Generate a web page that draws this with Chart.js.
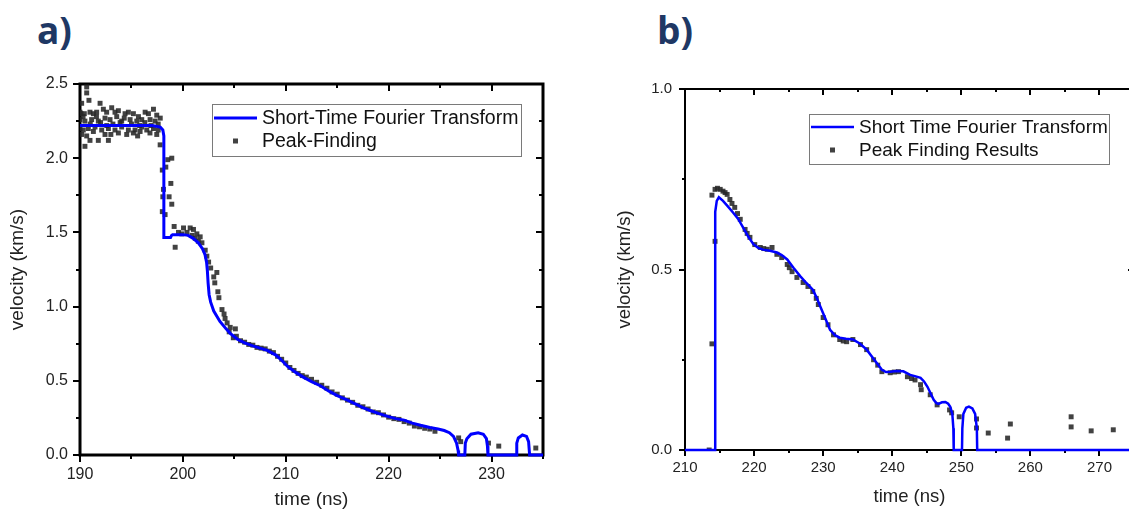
<!DOCTYPE html>
<html>
<head>
<meta charset="utf-8">
<script src="https://cdn.jsdelivr.net/npm/chart.js@4.4.1/dist/chart.umd.min.js"></script>
<style>
  html, body { margin: 0; padding: 0; overflow: hidden; background: #fff; width: 1129px; height: 517px; }
  .panel-label { position: absolute; font-family: "Open Sans", sans-serif; font-weight: 700; font-size: 37px; color: #1f3864; line-height: 1; }
  canvas { position: absolute; top: 0; }
</style>
</head>
<body>
<div class="panel-label" style="left:37px; top:11px;">a)</div>
<div class="panel-label" style="left:657px; top:11px;">b)</div>
<canvas id="chartA" width="560" height="517" style="left:0px"></canvas>
<canvas id="chartB" width="560" height="517" style="left:600px"></canvas>
<script>
// ---- panel a: data
const aXRange = [190, 235];
const aYRange = [0, 2.5];
const aLabels = ['Short-Time Fourier Transform', 'Peak-Finding'];

const aStftT = [190, 197.0, 197.8, 198.05, 198.15, 198.15, 198.8, 198.9, 199.0, 200.0, 200.5, 201.0, 201.5, 201.9, 202.15,
  202.3, 202.38, 202.45, 202.55, 202.7, 203.0, 203.6, 204.2, 204.6, 205.3, 206.0, 206.8, 207.5, 208.2, 209.0, 209.5, 210.2, 211.0, 211.7,
  212.5, 213.4, 214.2, 215.0, 216.0, 216.6, 217.5, 218.2, 219.0, 219.9, 220.7, 221.5, 222.3, 223.1, 224.0, 224.8, 225.4,
  225.9, 226.3, 226.6, 226.75, 226.8, 227.4, 227.45, 227.6, 228.0, 228.7, 229.2, 229.5, 229.6, 229.65, 232.4, 232.45,
  232.6, 233.0, 233.4, 233.6, 233.7, 235];
const aStftV = [2.22, 2.22, 2.21, 2.19, 2.15, 1.465, 1.465, 1.48, 1.485, 1.485, 1.48, 1.46, 1.43, 1.39, 1.35,
  1.30, 1.24, 1.16, 1.08, 1.03, 0.97, 0.90, 0.85, 0.82, 0.78, 0.755, 0.735, 0.72, 0.705, 0.675, 0.645, 0.595, 0.555, 0.525,
  0.495, 0.465, 0.43, 0.40, 0.37, 0.35, 0.32, 0.30, 0.28, 0.26, 0.245, 0.235, 0.215, 0.20, 0.185, 0.175, 0.165,
  0.15, 0.125, 0.08, 0.03, 0, 0, 0.08, 0.11, 0.14, 0.15, 0.14, 0.11, 0.06, 0, 0, 0.08,
  0.115, 0.135, 0.125, 0.09, 0, 0];

const aPeakT = [190.65, 190.65, 190.87, 190.16, 191.95, 190.0, 190.1, 190.42, 190.97, 191.3, 191.62, 192.27, 192.59, 193.08,
  193.4, 193.73, 194.38, 194.7, 195.19, 195.68, 196.33, 196.65, 197.14, 197.46, 190.0, 190.48, 191.13, 191.78, 192.43,
  192.92, 193.57, 194.05, 194.87, 195.52, 196.0, 196.81, 197.3, 190.0, 190.32, 190.81, 191.46, 192.11, 192.76, 193.4,
  194.05, 194.7, 195.35, 196.0, 196.49, 197.14, 197.6, 190.16, 190.65, 190.97, 191.78, 192.43, 192.76, 193.73, 194.54,
  195.19, 195.84, 190.48, 197.46, 197.79, 191.0, 191.6, 192.0, 192.6, 193.2, 193.9, 194.3, 195.0, 195.8, 196.3, 196.9,
  197.6, 197.8, 190.3, 191.3, 193.0, 195.6, 196.8,
  198.92, 198.53, 198.0, 198.34, 198.83, 198.11, 198.05, 198.66, 198.92, 198.0, 198.27, 199.15, 199.25, 199.57, 199.9,
  200.06, 200.4, 200.71, 200.9, 201.03, 201.2, 201.36, 201.5, 201.68, 201.85, 202.17, 202.33, 202.5, 202.7, 203.0, 203.3,
  203.1, 203.4, 203.5, 203.8, 204.0, 204.1, 204.3, 204.5, 204.6, 204.9, 205.1,
  205.2, 205.6, 206.0, 206.4, 206.8, 207.2, 207.6, 208.0, 208.4, 208.8, 209.2, 209.6, 210.0, 210.4, 210.8, 211.2, 211.6,
  212.0, 212.5, 213.0, 213.5, 214.0, 214.5, 215.0, 215.5, 216.0, 216.5, 217.0, 217.5, 218.0, 218.5, 219.0, 219.5, 220.0,
  220.5, 221.0, 221.5, 222.0, 222.5, 223.0, 223.5, 224.0, 224.5,
  226.8, 227.0, 229.7, 230.7, 234.3];
const aPeakV = [2.48, 2.44, 2.39, 2.37, 2.37, 2.31, 2.30, 2.30, 2.31, 2.30, 2.31, 2.33, 2.31, 2.34,
  2.31, 2.32, 2.30, 2.31, 2.30, 2.28, 2.31, 2.30, 2.33, 2.29, 2.26, 2.25, 2.26, 2.25, 2.27,
  2.26, 2.28, 2.25, 2.26, 2.25, 2.26, 2.26, 2.25, 2.20, 2.19, 2.20, 2.21, 2.19, 2.20, 2.19,
  2.21, 2.19, 2.19, 2.21, 2.19, 2.20, 2.19, 2.16, 2.15, 2.12, 2.12, 2.16, 2.12, 2.17, 2.16,
  2.17, 2.18, 2.08, 2.16, 2.09, 2.23, 2.28, 2.24, 2.22, 2.23, 2.24, 2.27, 2.23, 2.22, 2.24, 2.22,
  2.23, 2.27, 2.28, 2.18, 2.16, 2.15, 2.17,
  2.00, 1.99, 1.92, 1.94, 1.83, 1.79, 1.74, 1.74, 1.69, 1.64, 1.62, 1.54, 1.40, 1.50, 1.49,
  1.53, 1.50, 1.53, 1.48, 1.52, 1.46, 1.49, 1.44, 1.47, 1.43, 1.38, 1.34, 1.30, 1.26, 1.20, 1.23,
  1.16, 1.10, 1.06, 0.98, 0.95, 0.92, 0.89, 0.83, 0.86, 0.79, 0.85,
  0.80, 0.77, 0.76, 0.745, 0.74, 0.725, 0.72, 0.715, 0.70, 0.69, 0.665, 0.645, 0.62, 0.59, 0.57, 0.55, 0.535,
  0.525, 0.51, 0.49, 0.47, 0.45, 0.425, 0.41, 0.385, 0.37, 0.355, 0.335, 0.325, 0.31, 0.29, 0.285, 0.27, 0.255,
  0.245, 0.24, 0.225, 0.215, 0.195, 0.19, 0.18, 0.175, 0.16,
  0.115, 0.09, 0.08, 0.06, 0.047];

// ---- panel b: data
const bXRange = [210, 275];
const bYRange = [0, 1.0];
const bLabels = ['Short Time Fourier Transform', 'Peak Finding Results'];

const bStftT = [210, 214.35, 214.35, 214.4, 214.6, 214.9, 215.5, 216.2, 216.95, 217.7, 218.4, 219.2, 219.9, 220.6, 221.3,
  222.3, 223.3, 224.0, 224.8, 225.7, 226.7, 227.6, 228.5, 229.1, 229.6, 230.3, 231.0, 231.7, 232.4, 233.3, 234.3, 235.3,
  236.3, 237.4, 238.5, 239.1, 239.7, 240.6, 241.6, 242.6, 243.4, 244.1, 244.6, 245.1, 245.6, 246.0, 246.4, 246.7, 247.2,
  247.7, 248.1, 248.4, 248.7, 248.85, 248.9, 250.1, 250.15, 250.3, 250.7, 251.1, 251.6, 252.0, 252.25, 252.3, 275];
const bStftV = [0, 0, 0.50, 0.66, 0.69, 0.70, 0.69, 0.675, 0.658, 0.64, 0.617, 0.59, 0.57, 0.56, 0.555,
  0.552, 0.547, 0.54, 0.528, 0.505, 0.481, 0.462, 0.444, 0.42, 0.397, 0.365, 0.333, 0.318, 0.311, 0.308, 0.306, 0.295,
  0.278, 0.25, 0.222, 0.216, 0.217, 0.219, 0.218, 0.208, 0.204, 0.20, 0.19, 0.175, 0.155, 0.139, 0.13, 0.128, 0.132,
  0.133, 0.128, 0.12, 0.10, 0.06, 0, 0, 0.06, 0.10, 0.117, 0.12, 0.115, 0.10, 0.06, 0, 0];

const bPeakT = [213.5, 213.9, 214.35, 213.9, 214.35, 214.7, 215.1, 215.5, 215.8, 216.1, 216.5, 216.8, 217.2, 217.6, 218.0,
  218.7, 219.0, 219.4, 220.1, 220.9, 221.4, 221.9, 222.6, 223.3, 224.0, 224.8, 225.1, 225.5, 226.2, 227.1, 227.8, 228.5,
  229.0, 229.3, 230.0, 230.7, 231.5, 232.4, 232.9, 233.4, 234.3, 235.4, 236.3, 237.3, 237.9, 238.5, 239.7, 240.3, 240.9,
  242.2, 242.8, 243.3, 244.1, 244.2, 245.5, 246.5, 248.3, 248.6, 249.7, 252.2, 252.2, 253.9, 256.7, 257.1, 265.9, 265.9,
  268.8, 272.0];
const bPeakV = [0, 0.294, 0.578, 0.706, 0.722, 0.725, 0.722, 0.717, 0.713, 0.708, 0.694, 0.683, 0.672, 0.655, 0.639,
  0.611, 0.60, 0.589, 0.569, 0.561, 0.558, 0.556, 0.561, 0.542, 0.533, 0.514, 0.505, 0.494, 0.478, 0.464, 0.453, 0.439,
  0.42, 0.403, 0.367, 0.347, 0.319, 0.306, 0.302, 0.300, 0.306, 0.292, 0.278, 0.250, 0.235, 0.217, 0.214, 0.216, 0.217,
  0.203, 0.198, 0.194, 0.181, 0.167, 0.153, 0.125, 0.111, 0.103, 0.092, 0.086, 0.061, 0.047, 0.033, 0.072, 0.092, 0.064,
  0.053, 0.056];

function toPoints(xs, ys) {
  return xs.map((x, i) => ({ x: x, y: ys[i] }));
}

// frame + ticks like Origin: outward on left/bottom, inward on top/right
const frame = {
  id: 'frame',
  beforeDatasetsDraw(chart, args, o) {
    const { ctx, chartArea: a, scales: { x, y } } = chart;
    ctx.save();
    ctx.strokeStyle = '#000';
    ctx.lineWidth = o.width;
    ctx.strokeRect(a.left, a.top, a.right - a.left, a.bottom - a.top);
    ctx.lineWidth = o.tickWidth;
    const seg = (x1, y1, x2, y2) => { ctx.beginPath(); ctx.moveTo(x1, y1); ctx.lineTo(x2, y2); ctx.stroke(); };
    for (let v = x.min; v <= x.max + 1e-9; v += o.xMinor) {
      const major = Math.abs(v / o.xMajor - Math.round(v / o.xMajor)) < 1e-6;
      const len = major ? o.major : o.minor;
      const px = Math.round(x.getPixelForValue(v));
      seg(px, a.bottom, px, a.bottom + len);
      seg(px, a.top, px, a.top + len);
    }
    for (let v = y.min; v <= y.max + 1e-9; v += o.yMinor) {
      const major = Math.abs(v / o.yMajor - Math.round(v / o.yMajor)) < 1e-6;
      const len = major ? o.major : o.minor;
      const py = Math.round(y.getPixelForValue(v));
      seg(a.left - len, py, a.left, py);
      seg(a.right - len, py, a.right, py);
    }
    ctx.restore();
  }
};

// boxed legend inside the plot
const boxLegend = {
  id: 'boxLegend',
  afterDraw(chart, args, o) {
    const { ctx, chartArea: a } = chart;
    const x0 = a.left + o.dx, y0 = a.top + o.dy;
    ctx.save();
    ctx.fillStyle = '#fff';
    ctx.fillRect(x0, y0, o.w, o.h);
    ctx.strokeStyle = '#7a7a7a';
    ctx.lineWidth = 1;
    ctx.strokeRect(x0 + 0.5, y0 + 0.5, o.w, o.h);
    const ds = chart.data.datasets;
    // line sample
    ctx.strokeStyle = ds[0].borderColor;
    ctx.lineWidth = ds[0].borderWidth;
    ctx.beginPath();
    ctx.moveTo(x0 + 2, y0 + o.row1);
    ctx.lineTo(x0 + 45, y0 + o.row1);
    ctx.stroke();
    // marker sample
    ctx.fillStyle = ds[1].backgroundColor;
    ctx.fillRect(x0 + 21, y0 + o.row2 - 2.5, 5, 5);
    ctx.fillStyle = '#111';
    ctx.font = o.font;
    ctx.textBaseline = 'middle';
    ctx.fillText(ds[0].label, x0 + 50, y0 + o.row1 + 1);
    ctx.fillText(ds[1].label, x0 + 50, y0 + o.row2 + 1);
    ctx.restore();
  }
};

function makeChart(id, cfg) {
  const tickFont = { family: 'Liberation Sans', size: cfg.tickSize };
  const titleFont = { family: 'Liberation Sans', size: cfg.titleSize };
  return new Chart(document.getElementById(id), {
    type: 'scatter',
    data: {
      datasets: [{
        label: cfg.labels[0],
        data: toPoints(cfg.stftT, cfg.stftV),
        showLine: true,
        borderColor: '#0000ff',
        backgroundColor: '#0000ff',
        borderWidth: cfg.lineWidth,
        pointRadius: 0,
        tension: 0,
        clip: false
      }, {
        label: cfg.labels[1],
        data: toPoints(cfg.peakT, cfg.peakV),
        pointStyle: 'rect',
        pointRadius: 3.5,
        backgroundColor: 'rgba(40,40,40,0.88)',
        borderWidth: 0
      }]
    },
    options: {
      responsive: false,
      animation: false,
      layout: { padding: cfg.padding },
      plugins: {
        legend: { display: false },
        tooltip: { enabled: false },
        frame: cfg.frame,
        boxLegend: cfg.legend
      },
      scales: {
        x: {
          type: 'linear',
          min: cfg.xRange[0],
          max: cfg.xRange[1],
          grid: { display: false, drawTicks: false },
          border: { display: false },
          ticks: { stepSize: 10, includeBounds: false, color: '#222', font: tickFont, padding: cfg.xPad, maxRotation: 0 },
          title: { display: true, text: 'time (ns)', color: '#222', font: titleFont, padding: { top: 0, bottom: cfg.xTitlePad } },
          afterFit(s) { s.height = cfg.xHeight; }
        },
        y: {
          type: 'linear',
          min: cfg.yRange[0],
          max: cfg.yRange[1],
          grid: { display: false, drawTicks: false },
          border: { display: false },
          ticks: { stepSize: 0.5, includeBounds: false, color: '#222', font: tickFont, padding: cfg.yPad, callback: v => v.toFixed(1) },
          title: { display: true, text: 'velocity (km/s)', color: '#222', font: titleFont, padding: { top: cfg.yTitlePad, bottom: 0 } },
          afterFit(s) { s.width = cfg.yWidth; }
        }
      }
    },
    plugins: [frame, boxLegend]
  });
}

makeChart('chartA', {
  labels: aLabels, stftT: aStftT, stftV: aStftV, peakT: aPeakT, peakV: aPeakV,
  xRange: aXRange, yRange: aYRange, lineWidth: 3, tickSize: 16, titleSize: 19,
  padding: { left: 0, right: 17, top: 84, bottom: 0 },
  xHeight: 62, yWidth: 80, xPad: 10, yPad: 12, xTitlePad: 6, yTitlePad: 6,
  frame: { width: 3, tickWidth: 2, major: 7, minor: 4, xMajor: 10, xMinor: 5, yMajor: 0.5, yMinor: 0.25 },
  legend: { dx: 132, dy: 20, w: 309, h: 52, row1: 14, row2: 37, font: '19.5px "Liberation Sans"' }
});

makeChart('chartB', {
  labels: bLabels, stftT: bStftT, stftV: bStftV, peakT: bPeakT, peakV: bPeakV,
  xRange: bXRange, yRange: bYRange, lineWidth: 2.5, tickSize: 15, titleSize: 18.5,
  padding: { left: 0, right: 26, top: 89, bottom: 0 },
  xHeight: 67, yWidth: 85, xPad: 9, yPad: 13, xTitlePad: 9, yTitlePad: 14,
  frame: { width: 2, tickWidth: 2, major: 6, minor: 3, xMajor: 10, xMinor: 5, yMajor: 0.5, yMinor: 0.25 },
  legend: { dx: 124, dy: 25, w: 300, h: 50, row1: 13, row2: 36, font: '19px "Liberation Sans"' }
});
</script>
</body>
</html>
